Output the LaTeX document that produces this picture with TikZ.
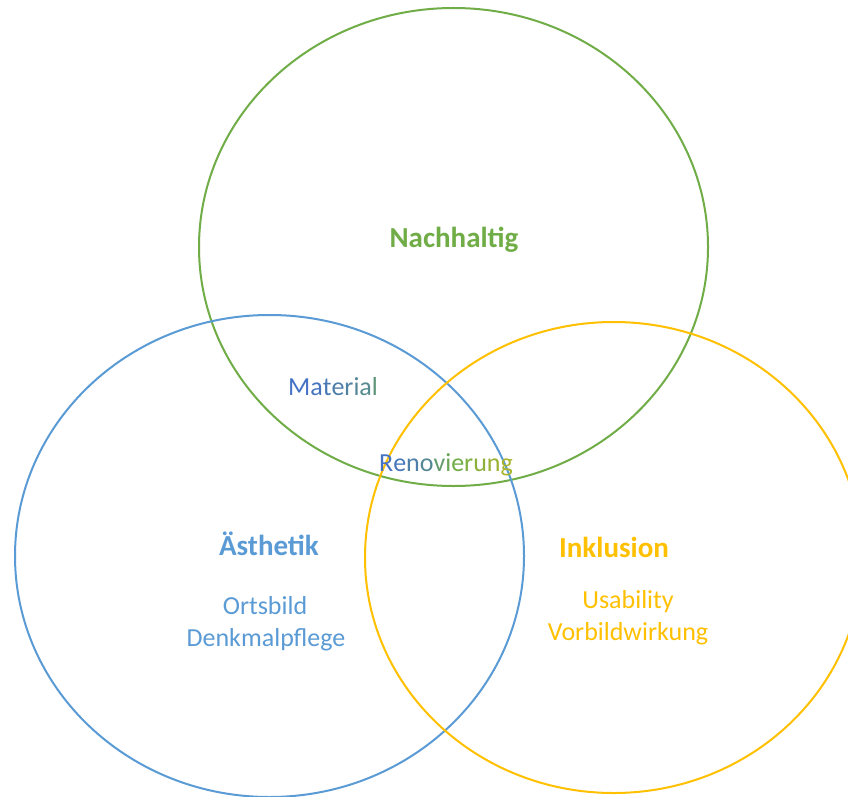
\documentclass[tikz,border=0pt]{standalone}
\usepackage{fontspec}
\setmainfont{Carlito}
\definecolor{cgreen}{HTML}{70AD47}
\definecolor{cblue}{HTML}{5B9BD5}
\definecolor{cyellow}{HTML}{FFC000}
\definecolor{gblue}{HTML}{4472C4}
\definecolor{gteal}{HTML}{5A8F86}
\definecolor{ggreen}{HTML}{70AD47}
\definecolor{golive}{HTML}{A8B42C}
\tikzset{
  ring/.style={line width=2pt},
  headlbl/.style={anchor=base, font=\fontsize{29}{35}\selectfont\bfseries, inner sep=0pt},
  itemlbl/.style={anchor=base, font=\fontsize{26}{32}\selectfont, inner sep=0pt},
}
\begin{document}
\begin{tikzpicture}[x=1pt,y=1pt]
\useasboundingbox (0,0) rectangle (848,-797);
\fill[white] (0,0) rectangle (848,-797);
\clip (0,0) rectangle (848,-797);
% circles
\draw[ring, cgreen] (453.5,-247) ellipse [x radius=254.5, y radius=239];
\draw[ring, cblue] (269.5,-556) ellipse [x radius=254.5, y radius=241];
\draw[ring, cyellow] (613.6,-557.5) ellipse [x radius=248.6, y radius=235.5];
% headings
\node[headlbl, text=cgreen] (nach) at (454,-247) {Nachhaltig};
\node[headlbl, text=cblue] (aest) at (269,-555) {Ästhetik};
\node[headlbl, text=cyellow] (inkl) at (614,-557) {Inklusion};
% items
\node[itemlbl, text=cblue] (orts) at (265,-614) {Ortsbild};
\node[itemlbl, text=cblue] (denk) at (266,-646) {Denkmalpflege};
\node[itemlbl, text=cyellow] (usab) at (628,-608) {Usability};
\node[itemlbl, text=cyellow] (vorb) at (628,-640) {Vorbildwirkung};
\node[itemlbl] (mat) at (333,-395) {\textcolor{gblue}{M}\textcolor{gblue!90!gteal}{a}\textcolor{gblue!75!gteal}{t}\textcolor{gblue!60!gteal}{e}\textcolor{gblue!45!gteal}{r}\textcolor{gblue!30!gteal}{i}\textcolor{gblue!15!gteal}{a}\textcolor{gteal!80!ggreen}{l}};
\node[itemlbl] (reno) at (446,-471) {\textcolor{gblue}{R}\textcolor{gblue!85!gteal}{e}\textcolor{gblue!55!gteal}{n}\textcolor{gblue!25!gteal}{o}\textcolor{gteal!60!ggreen}{v}\textcolor{gteal!25!ggreen}{i}\textcolor{ggreen}{e}\textcolor{ggreen!75!golive}{r}\textcolor{ggreen!50!golive}{u}\textcolor{ggreen!25!golive}{n}\textcolor{golive}{g}};
\end{tikzpicture}
\end{document}
